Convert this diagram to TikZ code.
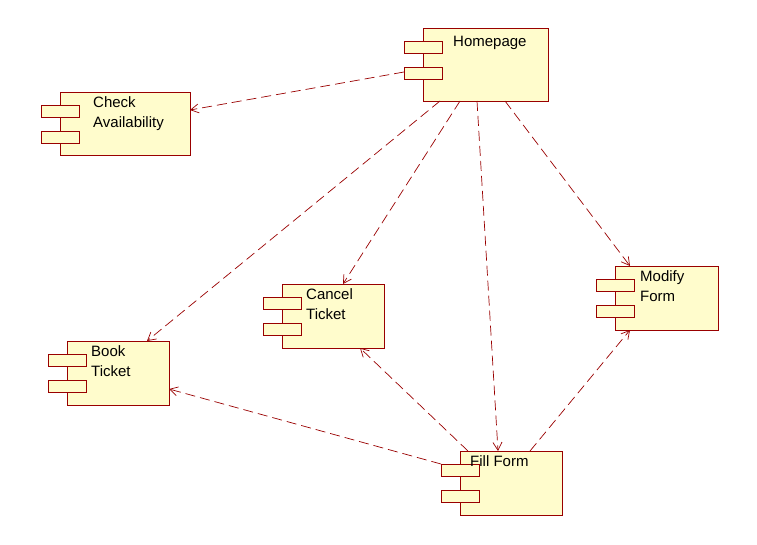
\documentclass[tikz,border=0pt]{standalone}
\usepackage{fontspec}
\setmainfont{Liberation Sans}
\usetikzlibrary{arrows.meta}
\tikzset{
  comp/.style={draw=red!60!black, fill=yellow!20, line width=0.9pt, inner sep=0pt},
  lbl/.style={anchor=north west, align=left, font=\fontsize{15}{20}\selectfont, inner sep=0pt},
  dep/.style={draw=red!60!black, line width=0.7pt, dash pattern=on 10pt off 5pt, -{Straight Barb[length=8pt,width=9pt]}}
}
\newcommand\comp[8]{% name, left, top, right, bottom, textx, texty, text
  \node[comp, minimum width=#4-#2, minimum height=#5-#3, anchor=north west] (#1) at (#2,#3) {};
  \node[comp, minimum width=38, minimum height=12, anchor=north west] (#1t1) at (#2-19,#3+13) {};
  \node[comp, minimum width=38, minimum height=12, anchor=north west] (#1t2) at (#2-19,#3+39) {};
  \node[lbl] (#1l) at (#6,#7+2) {#8};
}
\begin{document}
\begin{tikzpicture}[x=1pt,y=-1pt]
\useasboundingbox (0,0) rectangle (757,544);
\comp{home}{423}{28}{548}{101}{453}{34}{Homepage}
\comp{check}{60}{92}{190}{155}{93}{94}{Check\\Availability}
\comp{book}{67}{341}{169}{405}{91}{343}{Book\\Ticket}
\comp{cancel}{282}{284}{384}{348}{306}{286}{Cancel\\Ticket}
\comp{modify}{615}{266}{718}{330}{640}{268}{Modify\\Form}
\comp{fill}{460}{451}{562}{515}{470}{453}{Fill Form}
\coordinate (a0) at (404,72); \coordinate (b0) at (190,110);
\coordinate (a1) at (440,101); \coordinate (b1) at (147,341);
\coordinate (a2) at (460,101); \coordinate (b2) at (343,284);
\coordinate (a3) at (477,101); \coordinate (b3) at (498,451);
\coordinate (a4) at (505,101); \coordinate (b4) at (630,266);
\coordinate (a5) at (468,451); \coordinate (b5) at (360,348);
\coordinate (a6) at (441,464); \coordinate (b6) at (169,389);
\coordinate (a7) at (530,451); \coordinate (b7) at (630,330);
\foreach \i in {0,...,7} \draw[dep] (a\i) -- (b\i);
\end{tikzpicture}
\end{document}
